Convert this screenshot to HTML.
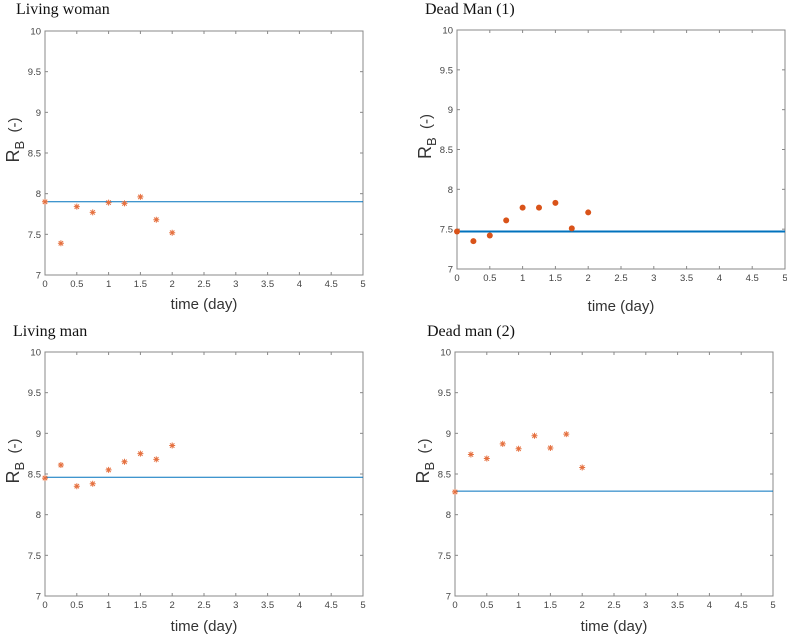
<!DOCTYPE html>
<html><head><meta charset="utf-8"><style>
body{margin:0;background:#fff;}
svg{display:block;}
</style></head><body>
<svg id="chart" width="787" height="635" xmlns="http://www.w3.org/2000/svg"></svg>
<script>
const xTicks = [0,0.5,1,1.5,2,2.5,3,3.5,4,4.5,5];
const xTickLabels = ["0","0.5","1","1.5","2","2.5","3","3.5","4","4.5","5"];
const yTicks = [7,7.5,8,8.5,9,9.5,10];
const yTickLabels = ["7","7.5","8","8.5","9","9.5","10"];
const times = [0,0.25,0.5,0.75,1,1.25,1.5,1.75,2];
const livingWoman = [7.9,7.39,7.84,7.77,7.89,7.88,7.96,7.68,7.52];
const deadMan1 = [7.47,7.35,7.42,7.61,7.77,7.77,7.83,7.51,7.71];
const livingMan = [8.45,8.61,8.35,8.38,8.55,8.65,8.75,8.68,8.85];
const deadMan2 = [8.28,8.74,8.69,8.87,8.81,8.97,8.82,8.99,8.58];
const baselines = [7.9,7.47,8.46,8.29];
const titles = ["Living woman","Dead Man (1)","Living man","Dead man (2)"];

const panels = [
 {l:45,r:363,t:31,b:275,tx:16,ty:14,data:livingWoman,base:baselines[0],title:titles[0],mk:'star',lw:1,xl:309,name:'living-woman'},
 {l:457,r:785,t:30,b:269,tx:425,ty:14,data:deadMan1,base:baselines[1],title:titles[1],mk:'dot',lw:2,xl:311,name:'dead-man-1'},
 {l:45,r:363,t:352,b:596,tx:13,ty:336,data:livingMan,base:baselines[2],title:titles[2],mk:'star',lw:1,xl:631,name:'living-man'},
 {l:455,r:773,t:352,b:596,tx:427,ty:336,data:deadMan2,base:baselines[3],title:titles[3],mk:'star',lw:1,xl:631,name:'dead-man-2'}
];
const NS="http://www.w3.org/2000/svg";
const svg=document.getElementById('chart');
function mk(tag,attrs,parent){const e=document.createElementNS(NS,tag);for(const k in attrs)e.setAttribute(k,attrs[k]);(parent||svg).appendChild(e);return e;}
panels.forEach(p=>{
 const g=mk('g',{});
 
 
 const xs=v=>p.l+(v-0)/(5-0)*(p.r-p.l);
 const ys=v=>p.b-(v-7)/(10-7)*(p.b-p.t);
 const ti=mk('text',{x:p.tx,y:p.ty,'font-family':'Liberation Serif, serif','font-size':16,fill:'#111'},g);
 ti.textContent=p.title;
 
 
 const box=mk('rect',{x:p.l,y:p.t,width:p.r-p.l,height:p.b-p.t,fill:'#fff',stroke:'#888','stroke-width':1},g);
 
 
 xTicks.forEach((v,i)=>{
  const x=xs(v);
  mk('line',{x1:x,x2:x,y1:p.b,y2:p.b-3,stroke:'#888'},g);
  mk('line',{x1:x,x2:x,y1:p.t,y2:p.t+3,stroke:'#888'},g);
  const t=mk('text',{x:x,y:p.b+12,'text-anchor':'middle','font-family':'Liberation Sans, sans-serif','font-size':9.5,fill:'#444'},g);
  t.textContent=xTickLabels[i];
  
  
 });
 yTicks.forEach((v,i)=>{
  const y=ys(v);
  mk('line',{x1:p.l,x2:p.l+3,y1:y,y2:y,stroke:'#888'},g);
  mk('line',{x1:p.r,x2:p.r-3,y1:y,y2:y,stroke:'#888'},g);
  const t=mk('text',{x:p.l-4,y:y+3.5,'text-anchor':'end','font-family':'Liberation Sans, sans-serif','font-size':9.5,fill:'#444'},g);
  t.textContent=yTickLabels[i];
  
  
 });
 const xl=mk('text',{x:(p.l+p.r)/2,y:p.xl,'text-anchor':'middle','font-family':'Liberation Sans, sans-serif','font-size':15,fill:'#333'},g);
 xl.textContent='time (day)';
 
 
 const cy=(p.t+p.b)/2-13;
 const yl=mk('text',{x:0,y:0,transform:`translate(${p.l-26},${cy}) rotate(-90)`,'text-anchor':'middle','font-family':'Liberation Sans, sans-serif','font-size':18,fill:'#333'},g);
 yl.innerHTML='R<tspan font-size="13" dy="5">B</tspan><tspan dy="-5" font-size="15">&#160;&#160;(-)</tspan>';
 
 
 const bl=mk('line',{x1:p.l,x2:p.r,y1:ys(p.base),y2:ys(p.base),stroke:'#0072BD','stroke-width':p.lw},g);
 
 
 p.data.forEach((v,i)=>{
  const x=xs(times[i]),y=ys(v);
  let m;
  if(p.mk==='dot'){
   m=mk('circle',{cx:x,cy:y,r:3,fill:'#D95319'},g);
  } else {
   m=mk('path',{d:`M${x-3},${y}H${x+3}M${x},${y-3}V${y+3}M${x-2.2},${y-2.2}L${x+2.2},${y+2.2}M${x-2.2},${y+2.2}L${x+2.2},${y-2.2}`,stroke:'#E5703F','stroke-width':1,fill:'none'},g);
  }
  
  
 });
});
</script>
</body></html>
